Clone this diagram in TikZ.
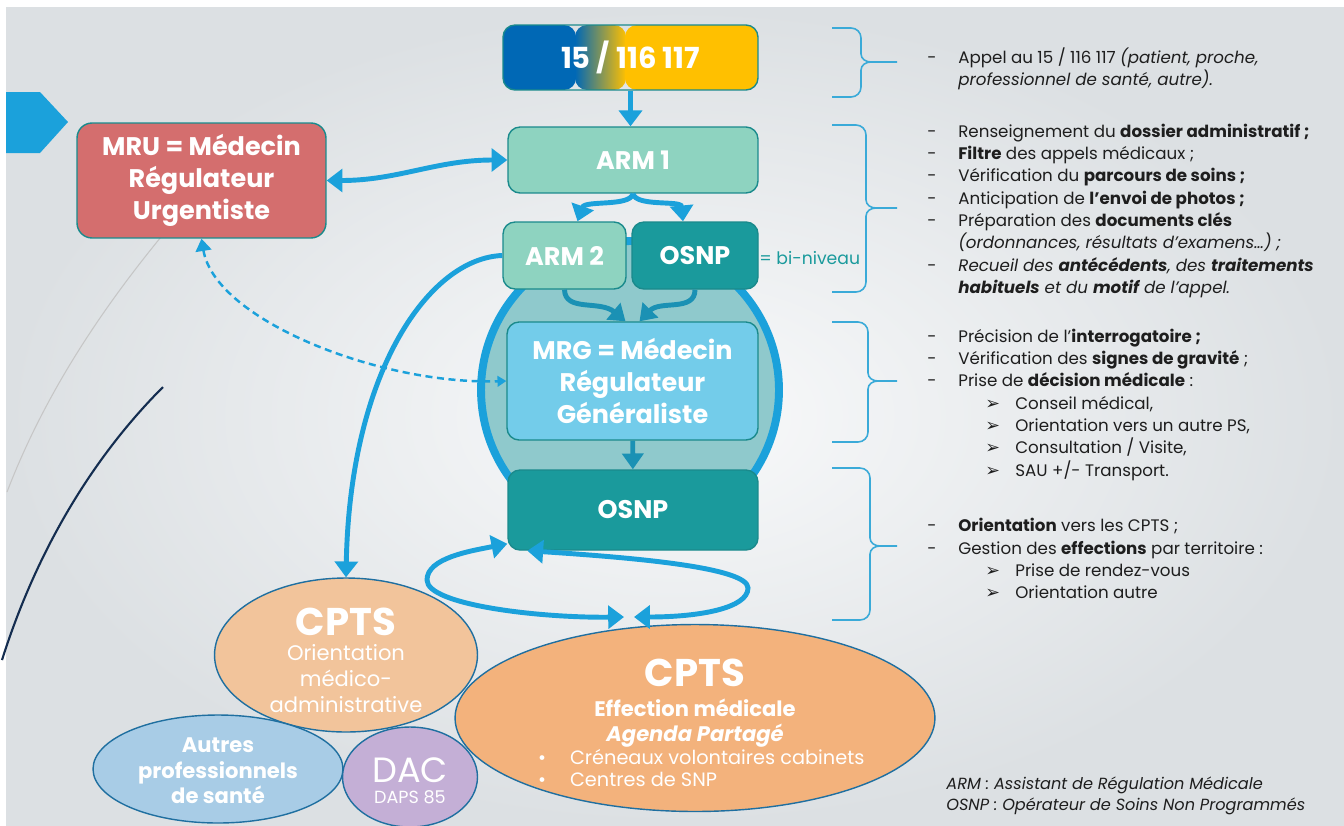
\documentclass[tikz,border=0pt]{standalone}
\usepackage{fontspec}
\setmainfont{Poppins}
\newfontfamily\symfont{DejaVu Sans}
\usepackage{tikz}
\usetikzlibrary{arrows.meta, shapes.geometric, calc}
\definecolor{callblue}{RGB}{0,104,181}
\definecolor{callyellow}{RGB}{255,192,0}
\definecolor{linkblue}{RGB}{27,161,219}
\definecolor{feedteal}{RGB}{27,145,180}
\definecolor{armmint}{RGB}{142,211,192}
\definecolor{osnpteal}{RGB}{26,154,156}
\definecolor{mrgblue}{RGB}{115,204,234}
\definecolor{ringfill}{RGB}{143,201,204}
\definecolor{mrured}{RGB}{212,110,110}
\definecolor{boxedge}{RGB}{26,138,140}
\definecolor{peachA}{RGB}{242,196,155}
\definecolor{peachB}{RGB}{243,178,124}
\definecolor{ovaledge}{RGB}{31,111,160}
\definecolor{autresblue}{RGB}{168,204,230}
\definecolor{daclilac}{RGB}{196,175,214}
\definecolor{bracecol}{RGB}{58,170,216}
\definecolor{bgout}{RGB}{220,224,227}
\definecolor{bgin}{RGB}{249,250,251}
\definecolor{navyarc}{RGB}{20,45,80}
\definecolor{notetext}{RGB}{30,30,30}
\newcommand\noteitem{\makebox[0.62cm][l]{-}}
\newcommand\notecont{\hspace*{0.62cm}}
\newcommand\notesub{\hspace*{1.16cm}\makebox[0.6cm][l]{{\symfont\fontsize{10}{10}\selectfont ➢}}}

\begin{document}
\begin{tikzpicture}[x=0.02cm, y=-0.02cm]
		\tikzset{box/.style={draw=boxedge, line width=0.8pt, rounded corners=0.24cm, text=white, align=center, inner sep=0pt, font=\bfseries\fontsize{14.5}{18}\selectfont}}
		\tikzset{oval/.style={ellipse, draw=ovaledge, line width=0.8pt, inner sep=0pt}}
		\tikzset{ovaltext/.style={text=white, align=center, inner sep=0pt, font=\fontsize{12}{14.5}\selectfont}}
		\tikzset{link/.style={draw=linkblue, line width=2.8pt, >={Triangle[length=9pt,width=13pt]}}}
		\tikzset{feed/.style={draw=feedteal, line width=2.8pt, >={Triangle[length=9pt,width=12pt]}}}
		\tikzset{rtext/.style={anchor=base west, inner sep=0pt, text=notetext, font=\fontsize{9.5}{11}\selectfont}}
		
		\useasboundingbox (0,0) rectangle (1344,825);
		
		% background
		\shade[inner color=bgin, outer color=bgout] (6,7) rectangle (1344,825);
		\draw[gray!45, line width=0.6pt] (7,492) .. controls (50,380) and (120,280) .. (210,180);
		\draw[navyarc, line width=1.2pt] (163,387) .. controls (100,450) and (40,540) .. (2,660);
		\fill[linkblue] (6,92) -- (40,92) -- (68,122) -- (40,153) -- (6,153) -- cycle;
		
		% regulation
		\node(ring) at (630,390) [circle, draw=linkblue, line width=4.5pt, fill=ringfill, minimum size=5.96cm, inner sep=0pt] {};
		
		\node(call) at (630.5,57.5) [box, minimum width=5.1cm, minimum height=1.3cm, font=\bfseries\fontsize{16.5}{20}\selectfont,
			path picture={
				\fill[callblue] (path picture bounding box.south west) rectangle ([xshift=1.46cm]path picture bounding box.north west);
				\shade[left color=callblue, right color=callyellow] ([xshift=1.44cm]path picture bounding box.south west) rectangle ([xshift=2.46cm]path picture bounding box.north west);
				\fill[callyellow] ([xshift=2.44cm]path picture bounding box.south west) rectangle (path picture bounding box.north east);
			}] {15 / 116 117};
		
		\node(arm1) at (633,160) [box, fill=armmint, minimum width=5cm, minimum height=1.32cm] {ARM 1};
		\node(arm2) at (564.5,255.5) [box, fill=armmint, minimum width=2.46cm, minimum height=1.34cm] {ARM 2};
		\node(osnpA) at (695,255.5) [box, fill=osnpteal, minimum width=2.52cm, minimum height=1.34cm] {OSNP};
		\node(mrg) at (632.5,381) [box, fill=mrgblue, minimum width=5.02cm, minimum height=2.36cm] {MRG = Médecin\\Régulateur\\Généraliste};
		\node(osnpB) at (633,510) [box, fill=osnpteal, minimum width=5cm, minimum height=1.6cm] {OSNP};
		\node(mru) at (201.5,180.5) [box, fill=mrured, rounded corners=0.3cm, minimum width=4.98cm, minimum height=2.3cm] {MRU = Médecin\\Régulateur\\Urgentiste};
		
		\node(biniveau) at (759,258) [anchor=west, inner sep=0pt, text=osnpteal, font=\fontsize{9.8}{12}\selectfont] {= bi-niveau};
		
		% CPTS and partners
		\node(cptsA) at (346,655) [oval, fill=peachA, minimum width=5.26cm, minimum height=3.08cm] {};
		\node(autres) at (218,769) [oval, fill=autresblue, minimum width=5cm, minimum height=2.16cm] {};
		\node(dac) at (410,777) [oval, fill=daclilac, minimum width=2.7cm, minimum height=2cm] {};
		\node(cptsB) at (695,718) [oval, fill=peachB, minimum width=9.6cm, minimum height=3.74cm] {};
		
		\node(cptsAtext) at (346,660) [ovaltext, font=\fontsize{12}{14.6}\selectfont] {{\fontsize{22}{26}\selectfont\bfseries CPTS}\\Orientation\\médico-\\administrative};
		\node(autrestext) at (218,771) [ovaltext, font=\bfseries\fontsize{12}{14.5}\selectfont] {Autres\\professionnels\\de santé};
		\node(dactext) at (410,781) [ovaltext, font=\fontsize{10}{12}\selectfont] {{\fontsize{20}{22}\selectfont DAC}\\DAPS 85};
		\node(cptsBtext) at (695,723) [ovaltext, font=\fontsize{11}{14.7}\selectfont] {{\fontsize{22}{26}\selectfont\bfseries CPTS}\\[2pt]
			{\bfseries\fontsize{12}{14.7}\selectfont Effection médicale}\\
			{\bfseries\itshape\fontsize{12}{14.7}\selectfont Agenda Partagé}\\[-1.7pt]
			\makebox[6.28cm][l]{\makebox[0.64cm][l]{•}Créneaux volontaires cabinets}\\[-2.2pt]
			\makebox[6.28cm][l]{\makebox[0.64cm][l]{•}Centres de SNP}};
		
		% connectors
		\draw[link, ->] (call.south) -- (call.south |- arm1.north);
		\draw[link, <->] (mru.east) to[out=0, in=180] (arm1.west);
		\draw[link, ->] (arm1.south) .. controls (630,207) and (585,200) .. ([xshift=0.26cm]arm2.north);
		\draw[link, ->] (arm1.south) .. controls (636,207) and (681,200) .. ([xshift=-0.24cm]osnpA.north);
		\draw[feed, ->] (arm2.south) .. controls (565,312) and (600,300) .. ([xshift=-0.14cm]mrg.north);
		\draw[feed, ->] (osnpA.south) .. controls (695,312) and (660,300) .. ([xshift=0.14cm]mrg.north);
		\draw[feed, ->] (mrg) -- (osnpB);
		\draw[link, dashed, line width=1.4pt, dash pattern=on 4pt off 2.6pt, {Triangle[length=7pt,width=9pt]}-{Triangle[length=5pt,width=6pt]}] (mru.south) .. controls (215,320) and (380,385) .. (mrg.west);
		\draw[link, ->] (arm2.west) .. controls (430,258) and (350,370) .. (cptsA.north);
		
		\coordinate(meetL) at (624,617);
		\coordinate(meetR) at (634,617);
		\coordinate(loopW) at (427,580);
		\coordinate(loopE) at (748,588);
		\draw[link, <->] ([yshift=0.14cm]osnpB.south west) .. controls (470,551) and (427,558) .. (loopW) .. controls (427,605) and (540,618) .. (meetL);
		\draw[link, <->] ([xshift=0.4cm]osnpB.south west) .. controls (640,558) and (748,568) .. (loopE) .. controls (748,608) and (700,617) .. (meetR);
		
		% braces
		\foreach \xb/\ya/\yb/\yt in {861/28/97/62, 866/125/292/208, 868/322/442/381, 870/468/620/546}
			\draw[bracecol, line width=0.9pt] (832,\ya) -- (\xb-10,\ya) to[out=0, in=90] (\xb,\ya+10) -- (\xb,\yt-8) to[out=-90, in=180] (\xb+10,\yt) -- (897,\yt)
				(832,\yb) -- (\xb-10,\yb) to[out=0, in=-90] (\xb,\yb-10) -- (\xb,\yt+8) to[out=90, in=180] (\xb+10,\yt);
		
		% notes
		\foreach \y/\t [count=\i] in {
			63/{\noteitem Appel au 15 / 116 117 \textit{(patient, proche,}},
			85/{\notecont\textit{professionnel de santé, autre).}},
			137/{\noteitem Renseignement du \textbf{dossier administratif ;}},
			159/{\noteitem\textbf{Filtre} des appels médicaux ;},
			181/{\noteitem Vérification du \textbf{parcours de soins ;}},
			204/{\noteitem Anticipation de \textbf{l’envoi de photos ;}},
			226/{\noteitem Préparation des \textbf{documents clés}},
			248/{\notecont\textit{(ordonnances, résultats d’examens…) ;}},
			271/{\noteitem\textit{Recueil des \textbf{antécédents}, des \textbf{traitements}}},
			293/{\notecont\textit{\textbf{habituels} et du \textbf{motif} de l’appel.}},
			342/{\noteitem Précision de l’\textbf{interrogatoire ;}},
			364/{\noteitem Vérification des \textbf{signes de gravité} ;},
			386/{\noteitem Prise de \textbf{décision médicale} :},
			409/{\notesub Conseil médical,},
			431/{\notesub Orientation vers un autre PS,},
			453/{\notesub Consultation / Visite,},
			476/{\notesub SAU +/- Transport.},
			531/{\noteitem\textbf{Orientation} vers les CPTS ;},
			554/{\noteitem Gestion des \textbf{effections} par territoire :},
			576/{\notesub Prise de rendez-vous},
			598/{\notesub Orientation autre}}
			\node(note\i) at (927,\y) [rtext] {\t};
		
		\node(legendARM) at (946,789) [rtext, font=\itshape\fontsize{9.2}{11}\selectfont] {ARM : Assistant de Régulation Médicale};
		\node(legendOSNP) at (946,810) [rtext, font=\itshape\fontsize{9.2}{11}\selectfont] {OSNP : Opérateur de Soins Non Programmés};
\end{tikzpicture}
\end{document}
